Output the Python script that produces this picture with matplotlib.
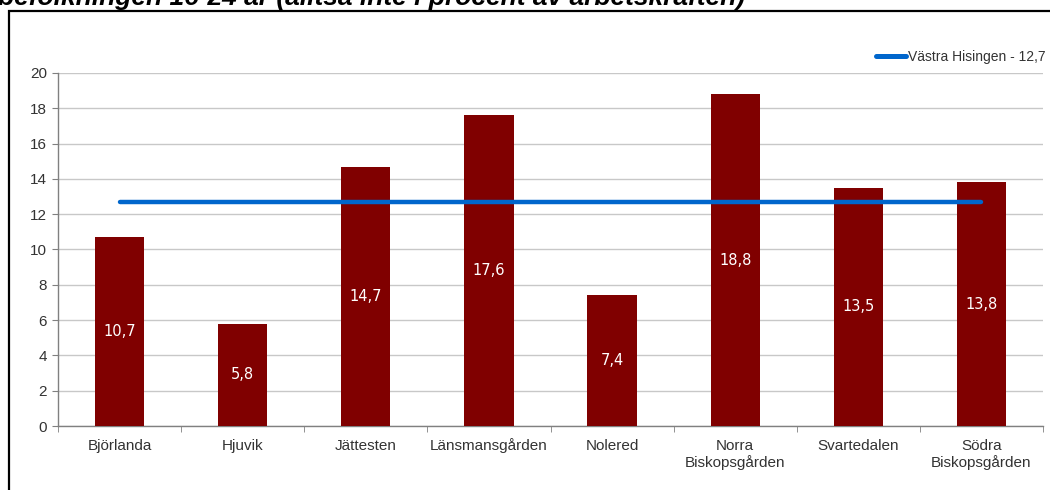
import matplotlib
matplotlib.use("Agg")
import matplotlib.pyplot as plt
from matplotlib.patches import Rectangle
import numpy as np

categories = ["Björlanda", "Hjuvik", "Jättesten", "Länsmansgården", "Nolered",
              "Norra\nBiskopsgården", "Svartedalen", "Södra\nBiskopsgården"]
values = [10.7, 5.8, 14.7, 17.6, 7.4, 18.8, 13.5, 13.8]
value_labels = ["10,7", "5,8", "14,7", "17,6", "7,4", "18,8", "13,5", "13,8"]
reference = [12.7, 12.7, 12.7, 12.7, 12.7, 12.7, 12.7, 12.7]
reference_label = "Västra Hisingen - 12,7"
yticks = [0, 2, 4, 6, 8, 10, 12, 14, 16, 18, 20]
title = "befolkningen 16-24 år (alltså inte i procent av arbetskraften)"

plt.rcParams['font.family'] = ['Liberation Sans', 'DejaVu Sans']

fig = plt.figure(figsize=(10.5, 4.9), dpi=100)
W, H = 1050, 490
ax = fig.add_axes([58 / W, 1 - 426 / H, (1043 - 58) / W, (426 - 73) / H])

x = np.arange(len(categories))
ax.bar(x, values, width=0.4, color="#800000", zorder=3)
for xi, v, lab in zip(x, values, value_labels):
    ax.text(xi, v / 2, lab, ha="center", va="center", color="white",
            fontsize=10.5, family="DejaVu Sans", zorder=4)

ax.plot(x, reference, color="#0066CC", lw=3.2, solid_capstyle="round",
        zorder=5, label=reference_label)

ax.set_xlim(-0.5, len(categories) - 0.5)
ax.set_ylim(0, 20)
ax.set_yticks(yticks)
ax.set_yticklabels([str(t) for t in yticks])
ax.yaxis.grid(True, color="#c8c8c8", lw=1.0, zorder=0)
ax.set_xticks(x)
ax.set_xticklabels(categories)
ax.set_xticks(np.arange(len(categories) + 1) - 0.5, minor=True)
ax.tick_params(axis="x", which="major", length=0, pad=9, labelsize=11,
               labelcolor="#333333")
ax.tick_params(axis="x", which="minor", length=4, color="#808080", direction="out")
ax.tick_params(axis="y", length=4, color="#808080", labelsize=11,
               labelcolor="#333333", pad=4)
for s in ["top", "right"]:
    ax.spines[s].set_visible(False)
for s in ["left", "bottom"]:
    ax.spines[s].set_color("#808080")
    ax.spines[s].set_linewidth(1.0)

leg = ax.legend(loc="center right", bbox_to_anchor=(1.008, 1.045), frameon=False,
                fontsize=10, handlelength=2.2, handletextpad=0.1,
                borderaxespad=0)
for t in leg.get_texts():
    t.set_color("#333333")
for l in leg.get_lines():
    l.set_linewidth(3.6)

# outer frame (partially outside image)
fig.patches.append(Rectangle((8.5 / W, -0.2), 1.1, 1.2 - 11.5 / H,
                             transform=fig.transFigure, fill=False,
                             edgecolor="black", lw=1.6, zorder=0))
fig.text(-2 / W, 1 - 5.5 / H, title, ha="left", va="baseline", fontsize=19,
         fontweight="bold", fontstyle="italic", color="black")

fig.savefig("out.png", dpi=100)
